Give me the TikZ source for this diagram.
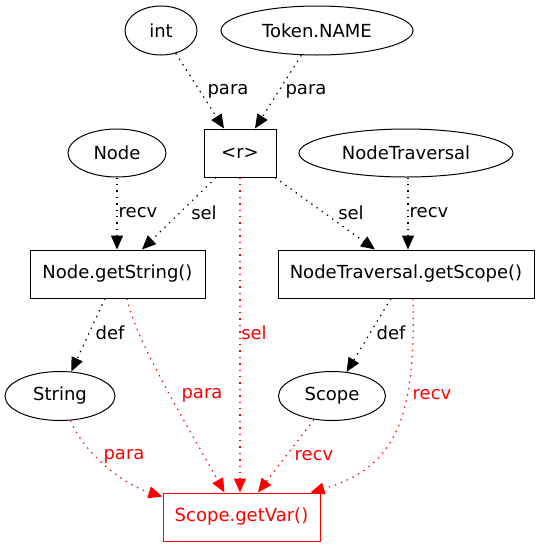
\documentclass[tikz,border=0pt]{standalone}
\usepackage{fontspec}
\setmainfont{DejaVu Sans}
\usetikzlibrary{shapes.geometric,arrows.meta,calc}
\begin{document}
\begin{tikzpicture}[x=1pt,y=-1pt,
  every node/.style={font=\fontsize{18}{21}\selectfont, inner sep=0pt},
  ell/.style={draw, ellipse, line width=1pt},
  box/.style={draw, rectangle, line width=1pt},
  lbl/.style={},
  rlbl/.style={text=red},
  edge/.style={line width=1.2pt, dash pattern=on 1.4pt off 5pt, -{Triangle[length=14pt,width=12pt]}},
  redge/.style={edge, red},
]
\useasboundingbox (0,0) rectangle (540,547);

% nodes
\node[ell, minimum width=72pt, minimum height=49pt] (int) at (161,30.5) {int};
\node[ell, minimum width=192pt, minimum height=49pt] (tok) at (317,30.5) {Token.NAME};
\node[box, minimum width=72pt, minimum height=48pt] (r) at (240,153) {<r>};
\node[ell, minimum width=98pt, minimum height=48pt] (nd) at (117,153) {Node};
\node[ell, minimum width=214pt, minimum height=48pt] (nt) at (406,153) {NodeTraversal};
\node[box, minimum width=175pt, minimum height=48pt] (gs) at (117.5,274) {Node.getString()};
\node[box, minimum width=256pt, minimum height=48pt] (gsc) at (406,274) {NodeTraversal.getScope()};
\node[ell, minimum width=110pt, minimum height=49pt] (str) at (60,396) {String};
\node[ell, minimum width=107pt, minimum height=49pt] (sc) at (332,396) {Scope};
\node[box, draw=red, text=red, minimum width=157pt, minimum height=48pt] (gv) at (241.5,517) {Scope.getVar()};

% black edges
\draw[edge] (int) -- ($(r.north)+(-16,0)$);
\draw[edge] (tok) -- ($(r.north)+(15,0)$);
\draw[edge] (nd.south) -- (nd.south |- gs.north);
\draw[edge] ($(r.south)+(-24,0)$) -- ($(gs.north)+(24.5,0)$);
\draw[edge] ($(r.south)+(35,0)$) -- ($(gsc.north)+(-31,0)$);
\draw[edge] ($(nt.south)+(2,0)$) -- ($(gsc.north)+(2,0)$);
\draw[edge] ($(gs.south)+(-12.5,0)$) -- (str);
\draw[edge] ($(gsc.south)+(-15,0)$) -- (sc);

% red edges
\draw[redge] (r.south) -- (r.south |- gv.north);
\draw[redge] ($(gs.south)+(9.5,0)$) .. controls (135,340) and (190,430) .. ($(gv.north)+(-17,0)$);
\draw[redge] (str) .. controls (85,455) and (125,485) .. ($(gv.north west)+(0,4)$);
\draw[redge] (sc) -- ($(gv.north)+(16.5,0)$);
\draw[redge] ($(gsc.south)+(7,0)$) .. controls (416,420) and (395,468) .. ($(gv.north east)+(-10,0)$);

% labels
\node[lbl] (l1) at (228,91) {para};
\node[lbl] (l2) at (306,91) {para};
\node[lbl] (l3) at (138,213) {recv};
\node[lbl] (l4) at (204,213) {sel};
\node[lbl] (l5) at (351,213) {sel};
\node[lbl] (l6) at (429,213) {recv};
\node[lbl] (l7) at (110,333) {def};
\node[rlbl] (l8) at (254,333) {sel};
\node[lbl] (l9) at (391,333) {def};
\node[rlbl] (l10) at (202,395) {para};
\node[rlbl] (l11) at (432,395) {recv};
\node[rlbl] (l12) at (124,456) {para};
\node[rlbl] (l13) at (314,456) {recv};
\end{tikzpicture}
\end{document}
